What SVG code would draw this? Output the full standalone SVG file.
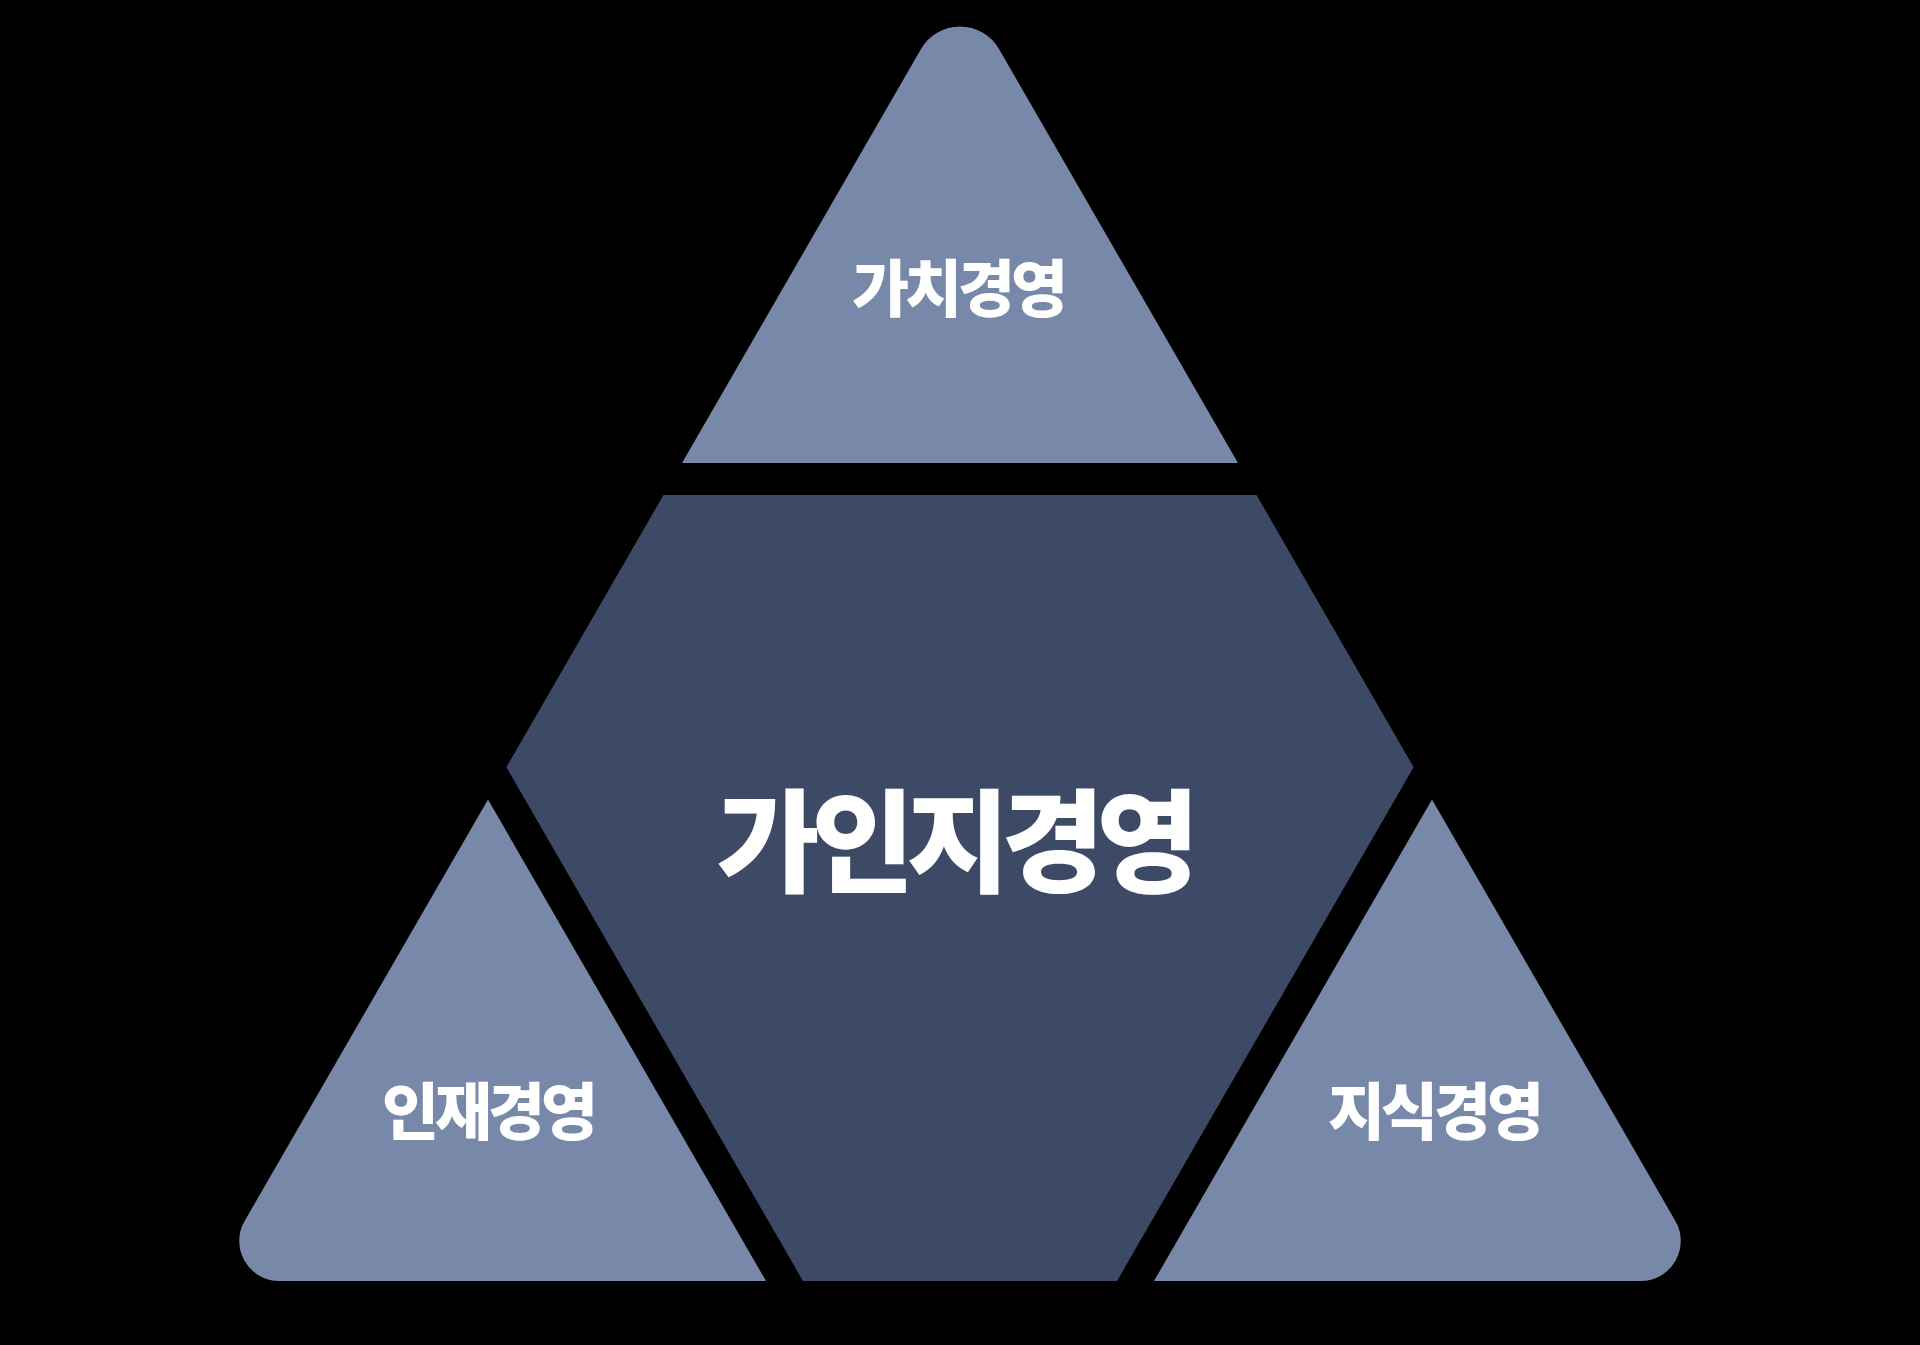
<svg xmlns="http://www.w3.org/2000/svg" width="1920" height="1345" viewBox="0 0 1920 1345">
<style>
.bg{fill:#000000}
.corner{fill:#7888a9}
.center{fill:#3c4a66}
.lbl{font-family:"Noto Sans CJK KR","Noto Sans CJK SC",sans-serif;font-weight:900;fill:#ffffff;text-anchor:middle}
.small{font-size:62px;letter-spacing:-4px}
.big{font-size:112px;letter-spacing:-8px}
</style>
<rect class="bg" x="0" y="0" width="1920" height="1345"/>
<g id="connectors"></g>
<g id="node-top">
<path class="corner" d="M 682 463 L 921 49 A 45 45 0 0 1 999 49 L 1238 463 Z"/>
<text class="lbl small" x="958" y="312">가치경영</text>
</g>
<g id="node-center">
<path class="center" d="M 663.5 495 L 1256.5 495 L 1413.6 767.2 L 1117 1281 L 803 1281 L 506.4 767.2 Z"/>
<text class="lbl big" x="954" y="884">가인지경영</text>
</g>
<g id="node-left">
<path class="corner" d="M 488 799.5 L 766 1281 L 279.3 1281 A 40 40 0 0 1 244.6 1221 Z"/>
<text class="lbl small" x="488" y="1135">인재경영</text>
</g>
<g id="node-right">
<path class="corner" d="M 1432 799.5 L 1675.4 1221 A 40 40 0 0 1 1640.7 1281 L 1154 1281 Z"/>
<text class="lbl small" x="1434" y="1135">지식경영</text>
</g>
</svg>
